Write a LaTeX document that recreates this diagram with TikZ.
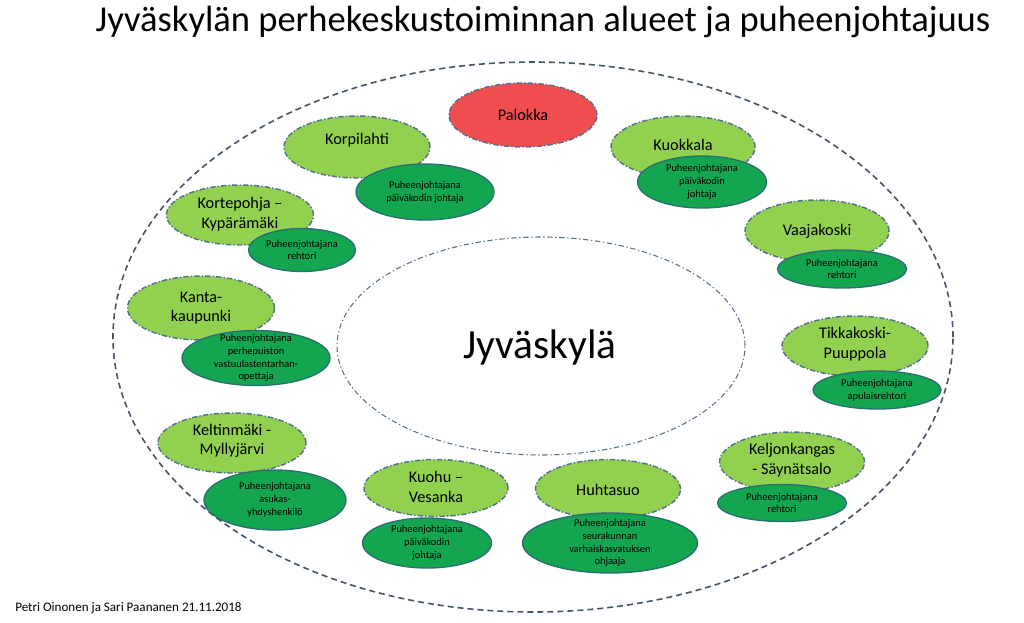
\documentclass[tikz,border=0pt]{standalone}
\usepackage{fontspec}
\setmainfont{Carlito}
\usetikzlibrary{shapes.geometric}
\definecolor{lgreen}{HTML}{92D050}
\definecolor{dgreen}{HTML}{14A550}
\definecolor{pred}{HTML}{F04E4E}
\definecolor{bordblue}{HTML}{55708F}
\definecolor{subbord}{HTML}{2A6F74}
\definecolor{outerc}{HTML}{44546A}
\tikzset{
  area/.style={ellipse, inner sep=0pt, fill=lgreen, draw=bordblue, line width=1.1pt,
    dash pattern=on 4pt off 1.6pt on 1pt off 1.6pt},
  areatxt/.style={font=\fontsize{12.2}{14.5}\selectfont, align=center, inner sep=0pt, text=black},
  sub/.style={ellipse, inner sep=0pt, fill=dgreen, draw=subbord, line width=1pt},
  subtxt/.style={font=\fontsize{7.8}{9.6}\selectfont, align=center, inner sep=0pt, text=black}
}
\begin{document}
\begin{tikzpicture}[x=0.75pt, y=-0.75pt]
\useasboundingbox (0,0) rectangle (1024,622);
% title and footer
\node[anchor=base, font=\fontsize{27.4}{30}\selectfont, inner sep=0pt] (title) at (543,31) {Jyväskylän perhekeskustoiminnan alueet ja puheenjohtajuus};
\node[anchor=base west, font=\fontsize{9.8}{11}\selectfont, inner sep=0pt] (foot) at (15,611) {Petri Oinonen ja Sari Paananen 21.11.2018};
% outer and inner ellipses
\draw[outerc, line width=1.2pt, dash pattern=on 4.5pt off 3pt] (533,337) ellipse [x radius=315pt, y radius=206.25pt];
\draw[bordblue, line width=0.8pt, dash pattern=on 4pt off 2pt on 1pt off 2pt] (541,346) ellipse [x radius=153pt, y radius=81.75pt];
\node[font=\fontsize{31}{36}\selectfont, inner sep=0pt] (jkl) at (540,347) {Jyväskylä};
% Palokka
\node[area, fill=pred, minimum width=111pt, minimum height=48pt] (pal) at (523,115) {};
\node[areatxt] (palt) at (pal) {Palokka};
% Korpilahti
\node[area, minimum width=109.5pt, minimum height=46.5pt] (kor) at (357,147) {};
\node[areatxt] (kort) at (357,140) {Korpilahti};
\node[sub, minimum width=103.5pt, minimum height=42pt] (kors) at (425,192) {};
\node[subtxt] (korst) at (kors) {Puheenjohtajana\\päiväkodin johtaja};
% Kuokkala
\node[area, minimum width=108pt, minimum height=46.5pt] (kuo) at (683,147) {};
\node[areatxt] (kuot) at (683,145) {Kuokkala};
\node[sub, minimum width=96.75pt, minimum height=39pt] (kuos) at (702,182) {};
\node[subtxt] (kuost) at (kuos) {Puheenjohtajana\\päiväkodin\\johtaja};
% Kortepohja
\node[area, minimum width=110.25pt, minimum height=45pt] (kp) at (240,215) {};
\node[areatxt] (kpt) at (240,214) {Kortepohja –\\Kypärämäki};
\node[sub, minimum width=80.25pt, minimum height=32.25pt] (kps) at (302,250) {};
\node[subtxt] (kpst) at (kps) {Puheenjohtajana\\rehtori};
% Vaajakoski
\node[area, minimum width=108pt, minimum height=46.5pt] (vaa) at (817,231) {};
\node[areatxt] (vaat) at (817,231) {Vaajakoski};
\node[sub, minimum width=96.75pt, minimum height=28.5pt] (vaas) at (842,269) {};
\node[subtxt] (vaast) at (vaas) {Puheenjohtajana\\rehtori};
% Kanta-kaupunki
\node[area, minimum width=110.25pt, minimum height=48pt] (kan) at (201,308) {};
\node[areatxt] (kant) at (201,308) {Kanta-\\kaupunki};
\node[sub, minimum width=111pt, minimum height=41.25pt] (kans) at (256,358) {};
\node[subtxt] (kanst) at (kans) {Puheenjohtajana\\perhepuiston\\vastuulastentarhan-\\opettaja};
% Tikkakoski
\node[area, minimum width=109.5pt, minimum height=45pt] (tik) at (855,346) {};
\node[areatxt] (tikt) at (855,344) {Tikkakoski-\\Puuppola};
\node[sub, minimum width=96pt, minimum height=28.5pt] (tiks) at (877,390) {};
\node[subtxt] (tikst) at (tiks) {Puheenjohtajana\\apulaisrehtori};
% Keltinmäki
\node[area, minimum width=111pt, minimum height=45pt] (kel) at (232,443) {};
\node[areatxt] (kelt) at (232,441) {Keltinmäki -\\Myllyjärvi};
\node[sub, minimum width=106.5pt, minimum height=45pt] (kels) at (275,500) {};
\node[subtxt] (kelst) at (kels) {Puheenjohtajana\\asukas-\\yhdyshenkilö};
% Kuohu - Vesanka
\node[area, minimum width=108pt, minimum height=42.75pt] (kuh) at (436,488) {};
\node[areatxt] (kuht) at (436,487) {Kuohu –\\Vesanka};
\node[sub, minimum width=96.75pt, minimum height=37.5pt] (kuhs) at (427,543) {};
\node[subtxt] (kuhst) at (kuhs) {Puheenjohtajana\\päiväkodin\\johtaja};
% Huhtasuo
\node[area, minimum width=108.75pt, minimum height=44.25pt] (huh) at (608,489) {};
\node[areatxt] (huht) at (608,490) {Huhtasuo};
\node[sub, minimum width=131.25pt, minimum height=45pt] (huhs) at (610,543) {};
\node[subtxt] (huhst) at (huhs) {Puheenjohtajana\\seurakunnan\\varhaiskasvatuksen\\ohjaaja};
% Keljonkangas
\node[area, minimum width=108.75pt, minimum height=45pt] (kej) at (792,462) {};
\node[areatxt] (kejt) at (792,460) {Keljonkangas\\- Säynätsalo};
\node[sub, minimum width=96.75pt, minimum height=27.75pt] (kejs) at (782,503) {};
\node[subtxt] (kejst) at (kejs) {Puheenjohtajana\\rehtori};
\end{tikzpicture}
\end{document}
